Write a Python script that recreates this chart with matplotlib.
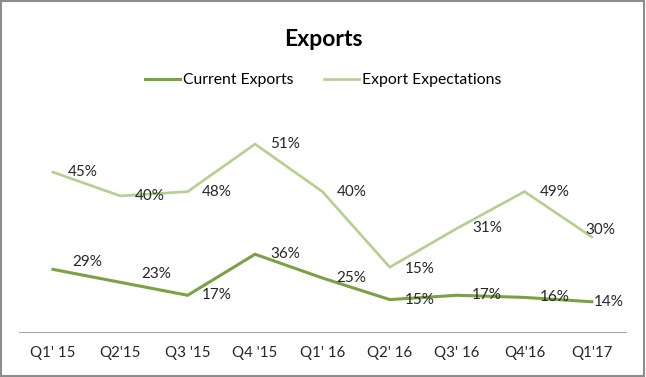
import matplotlib
matplotlib.use("Agg")
import matplotlib.pyplot as plt
from matplotlib.patches import Rectangle

plt.rcParams['font.family'] = ['Lato', 'DejaVu Sans']

quarters = ["Q1' 15", "Q2'15", "Q3 '15", "Q4 '15", "Q1' 16", "Q2' 16", "Q3' 16", "Q4'16", "Q1'17"]

# current exports, %
current = [29, 23, 17, 36, 25, 15, 17, 16, 14]
# export expectations: line as drawn in the original, and the labels it carries
expect_line = [74, 63, 65, 87, 65, 30, 48, 65, 44]
expect_labels = [45, 40, 48, 51, 40, 15, 31, 49, 30]

dark_green = "#7AA142"
light_green = "#B4CF8F"

W, H = 646, 377
fig = plt.figure(figsize=(W / 100, H / 100), dpi=100)
ax = fig.add_axes([19.3 / W, (H - 332) / H, 606.2 / W, 216 / H])

x = list(range(len(quarters)))
ax.plot(x, current, color=dark_green, lw=2.2, solid_joinstyle='miter', label="Current Exports")
ax.plot(x, expect_line, color=light_green, lw=1.9, solid_joinstyle='miter', label="Export Expectations")

ax.set_xlim(-0.5, len(quarters) - 0.5)
ax.set_ylim(0, 100)
ax.set_xticks(x)
ax.set_xticklabels(quarters, fontsize=10.8, color="#262626")
ax.tick_params(axis='x', length=0, pad=10)
ax.set_yticks([])
for s in ["top", "left", "right"]:
    ax.spines[s].set_visible(False)
ax.spines["bottom"].set_color("#A6A6A6")
ax.spines["bottom"].set_linewidth(0.8)

# label offsets in pixels (Excel nudged a few of them)
cur_off = [(19, 7), (21, 8), (14, 0), (15, 0), (14, 0), (15, 0), (15, 0), (15, 0), (2, 0)]
exp_off = [(15, 0), (14, 0), (14, 0), (15, 0), (14, 0), (15, -2), (15, 0), (15, 0), (-6, 7)]

for i in x:
    dx, dy = cur_off[i]
    ax.annotate(f"{current[i]}%", (i, current[i]), xytext=(dx * 0.72, dy * 0.72),
                textcoords="offset points", ha="left", va="center", fontsize=11, color="#262626")
    dx, dy = exp_off[i]
    ax.annotate(f"{expect_labels[i]}%", (i, expect_line[i]), xytext=(dx * 0.72, dy * 0.72),
                textcoords="offset points", ha="left", va="center", fontsize=11, color="#262626")

fig.text(0.5, 1 - 39 / H, "Exports", ha="center", va="center", fontsize=16.5, fontweight="bold", color="#000000")

fig.legend(loc="center", bbox_to_anchor=(323 / W, 1 - 80 / H), ncol=2, frameon=False,
           fontsize=11.3, handlelength=2.25, handletextpad=0.15, columnspacing=1.95)

fig.patches.append(Rectangle((1 / W, 1 / H), 643 / W, 375 / H, transform=fig.transFigure,
                             fill=False, edgecolor="#8C8C8C", lw=1.5))

fig.savefig("out.png", dpi=100, facecolor="white")
